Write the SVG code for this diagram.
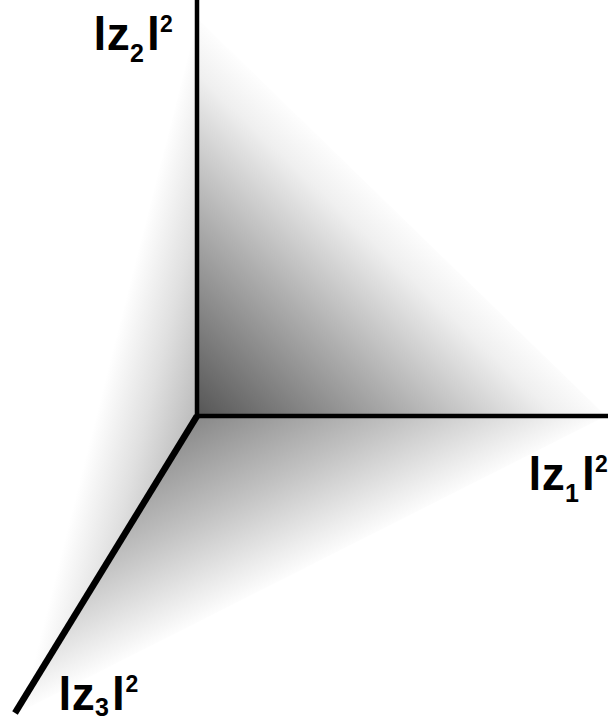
<svg xmlns="http://www.w3.org/2000/svg" width="608" height="721" viewBox="0 0 608 721">
<defs>
<linearGradient id="gUp" gradientUnits="userSpaceOnUse" x1="197" y1="416" x2="398" y2="205">
<stop offset="0" stop-color="#555"/><stop offset="0.5" stop-color="#aeaeae"/><stop offset="0.85" stop-color="#efefef"/><stop offset="1" stop-color="#fff"/>
</linearGradient>
<linearGradient id="gLow" gradientUnits="userSpaceOnUse" x1="197" y1="416" x2="281" y2="584">
<stop offset="0" stop-color="#888"/><stop offset="0.5" stop-color="#c2c2c2"/><stop offset="0.85" stop-color="#ededed"/><stop offset="1" stop-color="#fff"/>
</linearGradient>
<linearGradient id="gLeft" gradientUnits="userSpaceOnUse" x1="197" y1="416" x2="102" y2="392">
<stop offset="0" stop-color="#bbb"/><stop offset="0.5" stop-color="#e0e0e0"/><stop offset="1" stop-color="#fff"/>
</linearGradient>
</defs>
<style>
.ax{stroke:#000;fill:none;stroke-linecap:butt}
.lb{font-family:"Liberation Sans",Arial,sans-serif;font-weight:bold;font-size:46px;fill:#000}
.sb{font-size:25px}
.sp{font-size:23px}
</style>
<g id="faces">
<polygon points="197,416 199,20 606,416" fill="url(#gUp)"/>
<polygon points="197,416 602,418 20,712" fill="url(#gLow)"/>
<polygon points="197,416 197,22 20,712" fill="url(#gLeft)"/>
</g>
<g id="connectors">
<line class="ax" x1="197" y1="0" x2="197" y2="418" stroke-width="4.5"/>
<line class="ax" x1="195" y1="416" x2="608" y2="416" stroke-width="4.6"/>
<line class="ax" x1="197" y1="416" x2="15" y2="713" stroke-width="6.5"/>
</g>
<g id="label-z2">
<text class="lb"><tspan x="93.6" y="50">l</tspan><tspan x="106.8" y="50">z</tspan><tspan class="sb" x="130" y="62">2</tspan><tspan x="147" y="50">l</tspan><tspan class="sp" x="160" y="32">2</tspan></text>
</g>
<g id="label-z1">
<text class="lb"><tspan x="528.6" y="490">l</tspan><tspan x="541.8" y="490">z</tspan><tspan class="sb" x="565" y="502">1</tspan><tspan x="582" y="490">l</tspan><tspan class="sp" x="595" y="472">2</tspan></text>
</g>
<g id="label-z3">
<text class="lb"><tspan x="58.6" y="710">l</tspan><tspan x="71.8" y="710">z</tspan><tspan class="sb" x="95" y="716">3</tspan><tspan x="112" y="710">l</tspan><tspan class="sp" x="125.5" y="692">2</tspan></text>
</g>
</svg>
